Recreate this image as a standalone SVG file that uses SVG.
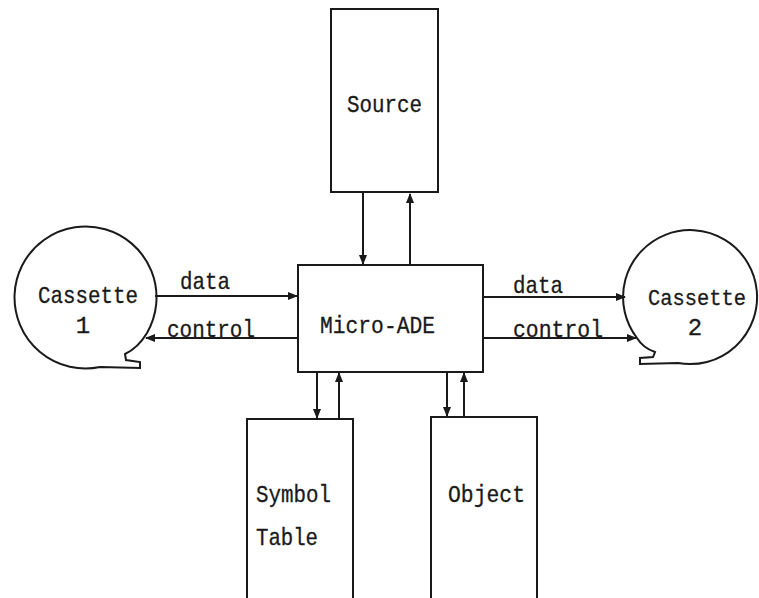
<svg xmlns="http://www.w3.org/2000/svg" width="759" height="598" viewBox="0 0 759 598">
<style>
.box{fill:none;stroke:#1a1a1a;stroke-width:2}
.conn{fill:none;stroke:#1a1a1a;stroke-width:2}
text{font-family:"Liberation Mono","DejaVu Sans Mono",monospace;font-size:24px;fill:#1a1a1a;stroke:#1a1a1a;stroke-width:0.3}
</style>
<defs>
<marker id="ah" viewBox="0 0 10 10" refX="9" refY="5" markerWidth="5" markerHeight="5" orient="auto" markerUnits="strokeWidth">
<path d="M0,1 L10,5 L0,9 Z" fill="#1a1a1a"/>
</marker>
</defs>
<rect width="759" height="598" fill="#fff"/>
<g id="source">
<rect class="box" x="331" y="9" width="107" height="183"/>
<text x="347" y="112" textLength="75" lengthAdjust="spacingAndGlyphs">Source</text>
</g>
<g id="micro-ade">
<rect class="box" x="298" y="265" width="185" height="107"/>
<text x="320" y="333" textLength="115" lengthAdjust="spacingAndGlyphs">Micro-ADE</text>
</g>
<g id="cassette1">
<path class="box" d="M147,333 A71,71 0 1 0 100,367 L140,368 L140,362 L126,360 L125,354 Q138,348 147,333"/>
<text x="38" y="303" textLength="100" lengthAdjust="spacingAndGlyphs">Cassette</text>
<text x="83" y="333" text-anchor="middle">1</text>
</g>
<g id="cassette2">
<path class="box" d="M637,338 A67,67 0 1 1 678,363 L640,364 L640,358 L653,357 L655,352 Q643,348 637,338"/>
<text x="648" y="305" style="font-size:22px" textLength="98" lengthAdjust="spacingAndGlyphs">Cassette</text>
<text x="695" y="335" text-anchor="middle">2</text>
</g>
<g id="symbol-table">
<rect class="box" x="247" y="419" width="106" height="190"/>
<text x="256" y="502" textLength="75" lengthAdjust="spacingAndGlyphs">Symbol</text>
<text x="256" y="545" textLength="62" lengthAdjust="spacingAndGlyphs">Table</text>
</g>
<g id="object">
<rect class="box" x="431" y="417" width="106" height="190"/>
<text x="448" y="502" textLength="77" lengthAdjust="spacingAndGlyphs">Object</text>
</g>
<g id="connectors">
<line class="conn" x1="363" y1="192" x2="363" y2="264" marker-end="url(#ah)"/>
<line class="conn" x1="410" y1="265" x2="410" y2="194" marker-end="url(#ah)"/>
<line class="conn" x1="155" y1="296" x2="297" y2="296" marker-end="url(#ah)"/>
<line class="conn" x1="298" y1="338" x2="146" y2="338" marker-end="url(#ah)"/>
<line class="conn" x1="483" y1="297" x2="625" y2="297" marker-end="url(#ah)"/>
<line class="conn" x1="483" y1="338" x2="636" y2="338" marker-end="url(#ah)"/>
<line class="conn" x1="317" y1="372" x2="317" y2="418" marker-end="url(#ah)"/>
<line class="conn" x1="339" y1="419" x2="339" y2="373" marker-end="url(#ah)"/>
<line class="conn" x1="447" y1="372" x2="447" y2="416" marker-end="url(#ah)"/>
<line class="conn" x1="464" y1="417" x2="464" y2="373" marker-end="url(#ah)"/>
<text x="180" y="289" textLength="50" lengthAdjust="spacingAndGlyphs">data</text>
<text x="167" y="337" textLength="88" lengthAdjust="spacingAndGlyphs">control</text>
<text x="513" y="293" textLength="50" lengthAdjust="spacingAndGlyphs">data</text>
<text x="513" y="337" textLength="90" lengthAdjust="spacingAndGlyphs">control</text>
</g>
</svg>
